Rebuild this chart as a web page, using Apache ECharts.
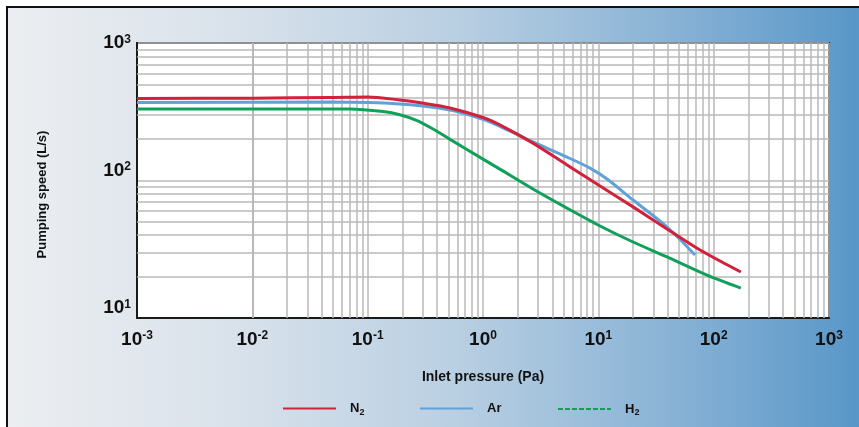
<!DOCTYPE html>
<html><head><meta charset="utf-8">
<script src="https://cdn.jsdelivr.net/npm/echarts@6/dist/echarts.min.js"></script>
<style>html,body{margin:0;padding:0;background:#fff}#c{width:859px;height:427px}</style>
</head><body><div id="c"></div>
<script>
// ---- data ----
const seriesNames = ['N2', 'Ar', 'H2'];
const n2Pressure = [0.001, 0.01, 0.05, 0.1, 0.19, 0.296, 0.518, 1.0, 1.4, 2.71, 5.35, 10.35, 20, 39.4, 76.2, 172];
const n2Speed    = [395, 397, 402, 405, 385, 366, 337, 287, 254, 187, 129.7, 91.2, 64.3, 44.4, 31.2, 21.6];
const arPressure = [0.001, 0.05, 0.19, 0.518, 1.0, 1.4, 2.71, 5.35, 8.47, 11.9, 20, 39.4, 68.9];
const arSpeed    = [369, 372, 360, 326, 279, 248, 190.6, 148, 123, 102.5, 72.1, 45.9, 28.7];
const h2Pressure = [0.001, 0.07, 0.136, 0.19, 0.268, 0.369, 0.518, 1.0, 1.4, 2.71, 5.35, 10.35, 20, 39.4, 87.5, 172];
const h2Speed    = [331, 331, 317, 301, 273, 237, 199, 143, 121, 86.8, 63, 46.7, 35.7, 27.8, 20.5, 16.5];
const xDecadeExponents = [-3, -2, -1, 0, 1, 2];
const yDecadeExponents = [1, 2];
const minorSteps = [2, 3, 4, 5, 6, 7, 8, 9];
const xAxisTitle = 'Inlet pressure (Pa)';
const yAxisTitle = 'Pumping speed (L/s)';

// ---- build ----
const zip = (xs, ys) => xs.map((x, i) => [x, ys[i]]);
const minorValues = exps => exps.flatMap(e => minorSteps.map(m => m * Math.pow(10, e)));
const xMinor = minorValues(xDecadeExponents);
const yMinor = minorValues(yDecadeExponents);
const expOf = v => Math.round(Math.log10(v));

const FONT = 'Liberation Sans';
const gridColor = '#b9b9b9';
const colors = {N2: '#d2213b', Ar: '#5fa2d8', H2: '#11a05a'};

const chart = echarts.init(document.getElementById('c'), null, {renderer: 'canvas'});

const tickRich = {
  b: {fontFamily: FONT, fontSize: 19, fontWeight: 'bold', color: '#111'},
  s: {fontFamily: FONT, fontSize: 12, fontWeight: 'bold', color: '#111', verticalAlign: 'top'},
  bp: {fontFamily: FONT, fontSize: 19, fontWeight: 'bold', color: '#111', padding: [0, 0, 20, 0]},
  sp: {fontFamily: FONT, fontSize: 12, fontWeight: 'bold', color: '#111', verticalAlign: 'top'}
};
const legendRich = {
  n: {fontFamily: FONT, fontSize: 13, fontWeight: 'bold', color: '#111'},
  sub: {fontFamily: FONT, fontSize: 9, fontWeight: 'bold', color: '#111', verticalAlign: 'bottom', padding: [8, 0, 0, 0]}
};
const legendLabel = name => name === 'Ar' ? '{n|Ar}' : '{n|' + name[0] + '}{sub|' + name.slice(1) + '}';
const legendLeft = {N2: 278, Ar: 415, H2: 553};
const solidIcon = 'path://M0,6 L53,6 L53,8 L0,8 Z';

function dashPath() {
  let p = 'path://M0,0 L0,0.01 L53,0.01 L53,0 Z';
  for (let x = 0; x < 53; x += 7) {
    const e = Math.min(x + 5, 53);
    p += ' M' + x + ',6 L' + e + ',6 L' + e + ',8 L' + x + ',8 Z';
  }
  p += ' M0,14 L53,14 L53,13.99 L0,13.99 Z';
  return p;
}

function makeLegend(name) {
  return {
    data: [{name: name}],
    left: legendLeft[name], top: 397,
    itemWidth: 53, itemHeight: 14,
    icon: name === 'H2' ? dashPath() : solidIcon,
    formatter: legendLabel,
    textStyle: {rich: legendRich, padding: [0, 0, 0, 9]}
  };
}

function curve(name, xs, ys) {
  return {
    name: name, type: 'line', data: zip(xs, ys),
    smooth: 0.3, showSymbol: false, symbol: 'none',
    lineStyle: {color: colors[name], width: 3}, itemStyle: {color: colors[name]},
    z: 5, silent: true
  };
}

const option = {
  backgroundColor: '#fff',
  animation: false,
  graphic: [{
    type: 'rect', z: -100, silent: true,
    shape: {x: 7, y: 7, width: 900, height: 460},
    style: {
      fill: {type: 'linear', x: 0, y: 0, x2: 1, y2: 0, colorStops: [
        {offset: 0, color: '#eceef1'},
        {offset: 0.25, color: '#d9e2eb'},
        {offset: 0.5, color: '#b9cfe2'},
        {offset: 0.75, color: '#86b1d5'},
        {offset: 1, color: '#4c8fc4'}
      ]},
      stroke: '#111', lineWidth: 2
    }
  }],
  grid: {left: 137, top: 43, right: 30, bottom: 109, show: true,
         backgroundColor: '#fff', borderColor: '#1a1a1a', borderWidth: 2},
  legend: seriesNames.map(makeLegend),
  xAxis: {
    type: 'log', logBase: 10, min: 0.001, max: 1000, splitNumber: 6,
    name: xAxisTitle, nameLocation: 'middle', nameGap: 52,
    nameTextStyle: {fontFamily: FONT, fontSize: 14, fontWeight: 'bold', color: '#111'},
    axisLine: {show: true, lineStyle: {color: '#1a1a1a', width: 2}},
    axisTick: {show: false},
    axisLabel: {margin: 12, formatter: v => '{b|10}{s|' + expOf(v) + '}', rich: tickRich},
    splitLine: {show: true, lineStyle: {color: gridColor, width: 1.5}},
    minorTick: {show: false}, minorSplitLine: {show: false}
  },
  yAxis: {
    type: 'log', logBase: 10, min: 10, max: 1000, splitNumber: 2,
    name: yAxisTitle, nameLocation: 'middle', nameGap: 88, nameRotate: 90,
    nameTextStyle: {fontFamily: FONT, fontSize: 13, fontWeight: 'bold', color: '#111', padding: [0, 28, 0, 0]},
    axisLine: {show: true, lineStyle: {color: '#1a1a1a', width: 2}},
    axisTick: {show: false},
    axisLabel: {margin: 6, formatter: v => expOf(v) >= 3 ? '{b|10}{s|' + expOf(v) + '}' : '{bp|10}{sp|' + expOf(v) + '}', rich: tickRich},
    splitLine: {show: true, lineStyle: {color: gridColor, width: 1.5}},
    minorTick: {show: false}, minorSplitLine: {show: false}
  },
  series: [
    {
      name: 'grid-minor', type: 'line', data: [[0.001, 10]], showSymbol: false, symbol: 'none',
      lineStyle: {opacity: 0}, silent: true, z: 1,
      markLine: {
        silent: true, symbol: 'none', animation: false,
        label: {show: false},
        lineStyle: {color: gridColor, width: 1.5, type: 'solid'},
        emphasis: {disabled: true},
        data: xMinor.map(v => ({xAxis: v})).concat(yMinor.map(v => ({yAxis: v})))
      }
    },
    curve('H2', h2Pressure, h2Speed),
    curve('Ar', arPressure, arSpeed),
    curve('N2', n2Pressure, n2Speed)
  ]
};
chart.setOption(option);
</script></body></html>
